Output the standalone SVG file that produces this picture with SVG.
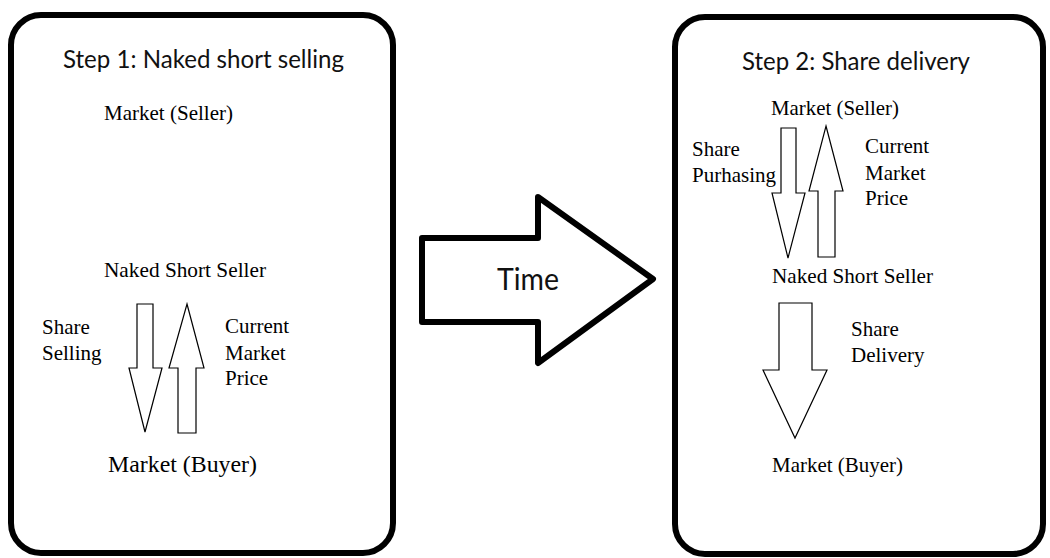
<svg xmlns="http://www.w3.org/2000/svg" width="1050" height="558" viewBox="0 0 1050 558">
<style>
.box{fill:#fff;stroke:#000;stroke-width:6}
.arr{fill:#fff;stroke:#000;stroke-width:1.2;stroke-linejoin:miter}
.big{fill:#fff;stroke:#000;stroke-width:6;stroke-linejoin:round}
.t{font-family:"Liberation Serif","Times New Roman",serif;font-size:21px;fill:#000}
.h{font-family:Lato,"Open Sans","Liberation Sans",sans-serif;font-size:25px;fill:#111}
</style>
<rect width="1050" height="558" fill="#fff"/>
<g id="step1">
<rect class="box" x="11" y="15" width="382" height="538" rx="30"/>
<text class="h" x="63" y="68" textLength="281" lengthAdjust="spacingAndGlyphs">Step 1: Naked short selling</text>
</g>
<g id="step1-seller"><text class="t" x="104" y="120" textLength="129" lengthAdjust="spacingAndGlyphs">Market (Seller)</text></g>
<g id="step1-nss"><text class="t" x="104" y="277" textLength="162" lengthAdjust="spacingAndGlyphs">Naked Short Seller</text></g>
<g id="step1-buyer"><text class="t" x="108" y="472" style="font-size:23.5px" textLength="149" lengthAdjust="spacingAndGlyphs">Market (Buyer)</text></g>
<g id="time">
<polygon class="big" points="422,238 538,238 538,197 653,279 538,363 538,322 422,322"/>
<text class="h" x="497" y="290" style="font-size:30px" textLength="62" lengthAdjust="spacingAndGlyphs">Time</text>
</g>
<g id="step2">
<rect class="box" x="675" y="17" width="368" height="537" rx="30"/>
<text class="h" x="742" y="70" textLength="228" lengthAdjust="spacingAndGlyphs">Step 2: Share delivery</text>
</g>
<g id="step2-seller"><text class="t" x="771" y="115" textLength="128" lengthAdjust="spacingAndGlyphs">Market (Seller)</text></g>
<g id="step2-nss"><text class="t" x="772" y="283" textLength="161" lengthAdjust="spacingAndGlyphs">Naked Short Seller</text></g>
<g id="step2-buyer"><text class="t" x="772" y="472" textLength="131" lengthAdjust="spacingAndGlyphs">Market (Buyer)</text></g>
<g id="connectors">
<polygon class="arr" points="137,304 153,304 153,368 162,368 145,432 129,368 137,368"/>
<polygon class="arr" points="187,304 204,368 196,368 196,433 178,433 178,368 169,368"/>
<polygon class="arr" points="781,128 796,128 796,193 805,193 788,258 772,193 781,193"/>
<polygon class="arr" points="826,126 843,191 835,191 835,257 818,257 818,191 809,191"/>
<polygon class="arr" points="779,303 812,303 812,370 827,370 795,438 763,370 779,370"/>
</g>
<g id="labels">
<text class="t" x="42" y="334">Share</text>
<text class="t" x="42" y="360">Selling</text>
<text class="t" x="225" y="333">Current</text>
<text class="t" x="225" y="360">Market</text>
<text class="t" x="225" y="385">Price</text>
<text class="t" x="692" y="156">Share</text>
<text class="t" x="692" y="182">Purhasing</text>
<text class="t" x="865" y="153">Current</text>
<text class="t" x="865" y="180">Market</text>
<text class="t" x="865" y="205">Price</text>
<text class="t" x="851" y="336">Share</text>
<text class="t" x="851" y="362">Delivery</text>
</g>
</svg>
